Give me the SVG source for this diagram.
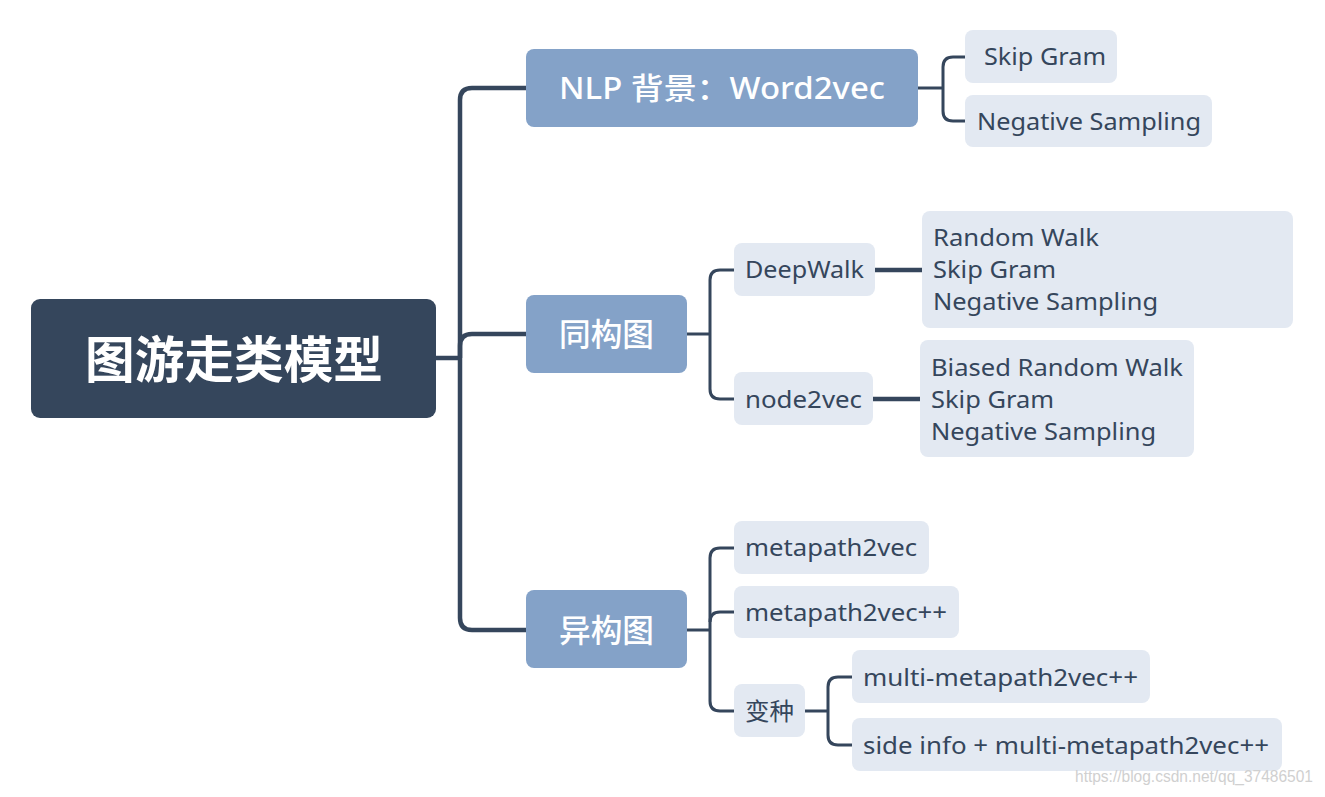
<svg xmlns="http://www.w3.org/2000/svg" width="1325" height="797" viewBox="0 0 1325 797">
<style>
.c{fill:none;stroke:#35465c;stroke-linecap:butt;stroke-linejoin:round}
.t{stroke-width:4.5}
.s{stroke-width:3}
.l1{fill:#84a2c8}
.l2{fill:#e3e9f2}
.tw{fill:#ffffff;font-family:"Noto Sans","Noto Sans CJK SC",sans-serif}
.td{fill:#35465c;font-family:"Noto Sans","Noto Sans CJK SC",sans-serif;font-size:24px}
</style>
<rect width="1325" height="797" fill="#ffffff"/>
<g id="connectors">
<path class="c t" d="M436,358 H460"/>
<path class="c t" d="M526,88 H472 Q460,88 460,100 V618 Q460,630 472,630 H526"/>
<path class="c t" d="M460,358 V346 Q460,334 472,334 H526"/>
<path class="c s" d="M918,88 H943"/>
<path class="c s" d="M965,57 H953 Q943,57 943,67 V111 Q943,121 953,121 H965"/>
<path class="c s" d="M687,334 H710"/>
<path class="c s" d="M734,270 H720 Q710,270 710,280 V389 Q710,399 720,399 H734"/>
<path class="c t" d="M875,270 H922"/>
<path class="c t" d="M873,399 H920"/>
<path class="c s" d="M687,630 H710"/>
<path class="c s" d="M734,548 H720 Q710,548 710,558 V701 Q710,711 720,711 H734"/>
<path class="c s" d="M710,622 Q710,612 720,612 H734"/>
<path class="c s" d="M805,711 H828"/>
<path class="c s" d="M852,677 H838 Q828,677 828,687 V735 Q828,745 838,745 H852"/>
</g>
<g id="root">
<rect x="31" y="299" width="405" height="119" rx="9" fill="#35465c"/>
<text class="tw" x="234" y="378" font-size="50" font-weight="bold" text-anchor="middle" textLength="298" lengthAdjust="spacingAndGlyphs">图游走类模型</text>
</g>
<g id="nlp">
<rect class="l1" x="526" y="49" width="392" height="78" rx="8"/>
<text class="tw" x="559" y="99" font-size="30" font-weight="500" textLength="326" lengthAdjust="spacingAndGlyphs">NLP 背景：Word2vec</text>
</g>
<g id="skipgram">
<rect class="l2" x="965" y="30" width="152" height="53" rx="8"/>
<text class="td" x="984" y="65" textLength="122" lengthAdjust="spacingAndGlyphs">Skip Gram</text>
</g>
<g id="negsampling">
<rect class="l2" x="965" y="95" width="247" height="52" rx="8"/>
<text class="td" x="977" y="130" textLength="224" lengthAdjust="spacingAndGlyphs">Negative Sampling</text>
</g>
<g id="tonggou">
<rect class="l1" x="526" y="295" width="161" height="78" rx="8"/>
<text class="tw" x="559" y="346" font-size="32" font-weight="500" textLength="95" lengthAdjust="spacingAndGlyphs">同构图</text>
</g>
<g id="deepwalk">
<rect class="l2" x="734" y="243" width="141" height="53" rx="8"/>
<text class="td" x="745" y="278" textLength="119" lengthAdjust="spacingAndGlyphs">DeepWalk</text>
</g>
<g id="deepwalk-detail">
<rect class="l2" x="922" y="211" width="371" height="117" rx="8"/>
<text class="td" x="933" y="246" textLength="166" lengthAdjust="spacingAndGlyphs">Random Walk</text>
<text class="td" x="933" y="278" textLength="123" lengthAdjust="spacingAndGlyphs">Skip Gram</text>
<text class="td" x="933" y="310" textLength="225" lengthAdjust="spacingAndGlyphs">Negative Sampling</text>
</g>
<g id="node2vec">
<rect class="l2" x="734" y="372" width="139" height="53" rx="8"/>
<text class="td" x="745" y="408" textLength="117" lengthAdjust="spacingAndGlyphs">node2vec</text>
</g>
<g id="node2vec-detail">
<rect class="l2" x="920" y="340" width="274" height="117" rx="8"/>
<text class="td" x="931" y="376" textLength="252" lengthAdjust="spacingAndGlyphs">Biased Random Walk</text>
<text class="td" x="931" y="408" textLength="123" lengthAdjust="spacingAndGlyphs">Skip Gram</text>
<text class="td" x="931" y="440" textLength="225" lengthAdjust="spacingAndGlyphs">Negative Sampling</text>
</g>
<g id="yigou">
<rect class="l1" x="526" y="590" width="161" height="78" rx="8"/>
<text class="tw" x="559" y="642" font-size="32" font-weight="500" textLength="95" lengthAdjust="spacingAndGlyphs">异构图</text>
</g>
<g id="metapath2vec">
<rect class="l2" x="734" y="521" width="195" height="53" rx="8"/>
<text class="td" x="745" y="556" textLength="172" lengthAdjust="spacingAndGlyphs">metapath2vec</text>
</g>
<g id="metapath2vecpp">
<rect class="l2" x="734" y="586" width="225" height="52" rx="8"/>
<text class="td" x="745" y="621" textLength="202" lengthAdjust="spacingAndGlyphs">metapath2vec++</text>
</g>
<g id="bianzhong">
<rect class="l2" x="734" y="684" width="71" height="53" rx="8"/>
<text class="td" x="745" y="720" textLength="49" lengthAdjust="spacingAndGlyphs">变种</text>
</g>
<g id="multi">
<rect class="l2" x="852" y="650" width="298" height="53" rx="8"/>
<text class="td" x="863" y="686" textLength="275" lengthAdjust="spacingAndGlyphs">multi-metapath2vec++</text>
</g>
<g id="sideinfo">
<rect class="l2" x="852" y="718" width="430" height="53" rx="8"/>
<text class="td" x="863" y="754" textLength="406" lengthAdjust="spacingAndGlyphs">side info + multi-metapath2vec++</text>
</g>
<text x="1075" y="782" font-family="Liberation Sans,sans-serif" font-size="16" fill="#d0d0d0" textLength="238" lengthAdjust="spacingAndGlyphs">https://blog.csdn.net/qq_37486501</text>
</svg>
